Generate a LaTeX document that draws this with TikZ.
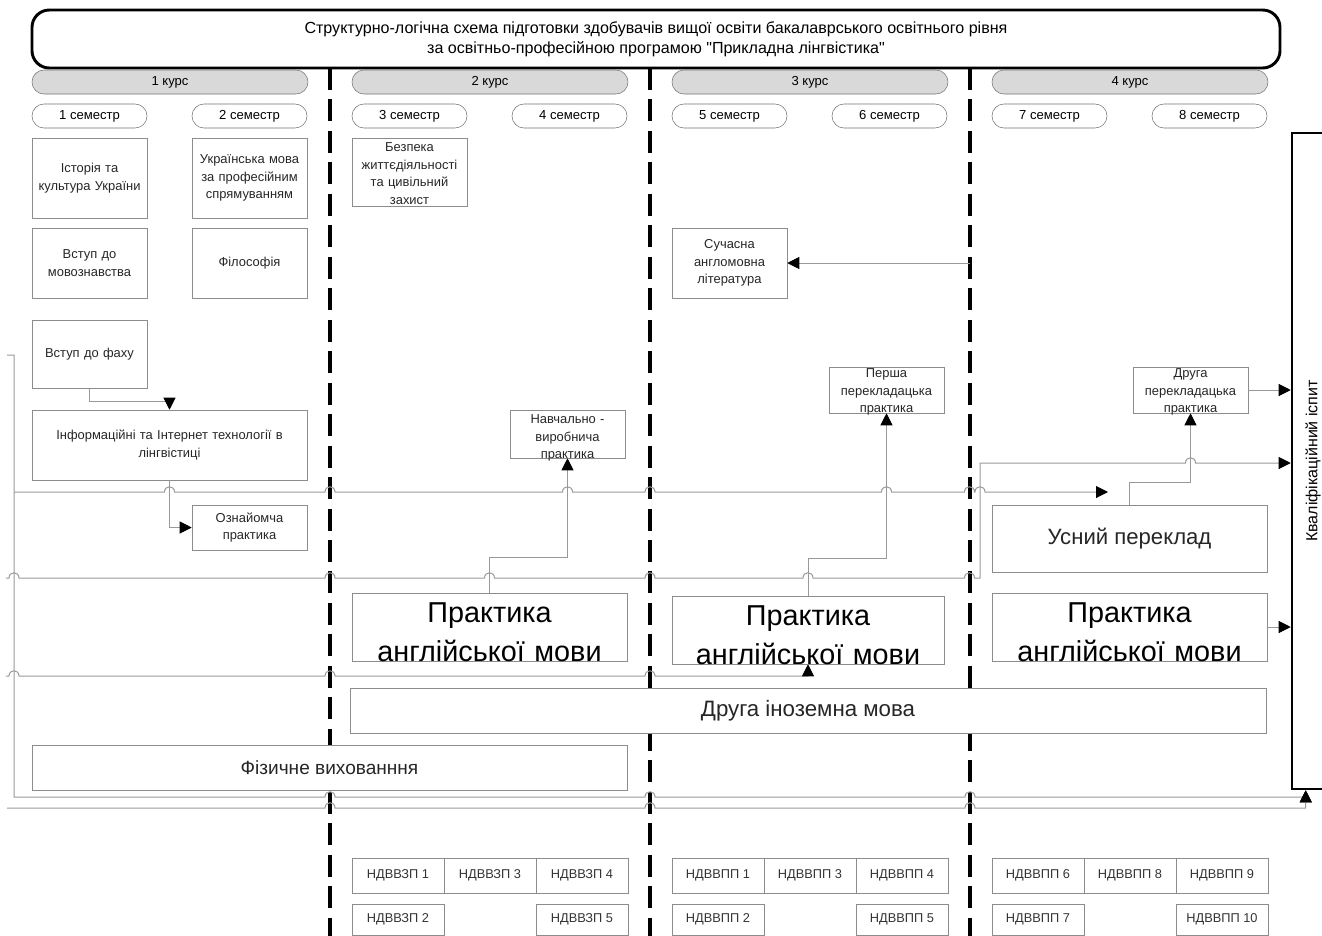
\documentclass[tikz,border=0pt]{standalone}
\usepackage{fontspec}
\setmainfont{Liberation Sans}
\newfontfamily\plainsans{Liberation Sans}
\usetikzlibrary{arrows.meta,chains,positioning}

\newcommand\linehop[2]{-- ({#1-5},#2) .. controls ({#1-5},{#2-7}) and ({#1+5},{#2-7}) .. ({#1+5},#2)}

\begin{document}
\begin{tikzpicture}[x=0.75pt, y=-0.75pt, >={Triangle[length=9pt,width=9pt,black]},
    header/.style={draw, line width=2.2pt, rounded corners=13pt, minimum width=936pt, minimum height=43.5pt, align=center, font=\plainsans\fontsize{12.05}{15}\selectfont},
    course/.style={draw=black!55, fill=black!15, rounded corners=9pt, minimum width=207pt, minimum height=18pt, inner sep=0pt, font=\fontsize{9.8}{12}\selectfont},
    sem/.style={draw=black!55, rounded corners=9pt, minimum width=86.25pt, minimum height=18pt, inner sep=0pt, font=\fontsize{9.8}{12}\selectfont},
    subj/.style={draw=black!45, text=black!85, text width=82pt, align=center, inner xsep=0pt, minimum width=86.25pt, font=\fontsize{9.7}{13.2}\selectfont},
    bigbox/.style={draw=black!45, text width=200pt, align=center, inner sep=0pt, minimum width=206.25pt, font=\fontsize{21.6}{29.25}\selectfont, text height=21.75pt, text depth=29.25pt},
    wide/.style={draw=black!45, fill=white, text=black!85, inner sep=0pt, minimum height=33.75pt},
    ndv/.style={draw=black!45, text=black!80, outer sep=0pt, inner sep=0pt, minimum width=69pt, minimum height=26.25pt, font=\fontsize{9.6}{12}\selectfont},
    conn/.style={draw=black!40, line width=0.75pt},
    divider/.style={line width=2.3pt, dash pattern=on 16.5pt off 7.1pt},
    kvalbox/.style={draw, line width=1.9pt, minimum width=31.5pt, minimum height=492pt, inner sep=0pt, font=\fontsize{12}{14}\selectfont}]
    \path[use as bounding box] (0,0) rectangle (1322,936);
    \clip (0,0) rectangle (1322,936);

    \draw[divider] (330,68) -- (330,936);
    \draw[divider] (650,68) -- (650,936);
    \draw[divider] (970,68) -- (970,936);

    \node[header] (head) at (656,39) {Структурно-логічна схема підготовки здобувачів вищої освіти бакалаврського освітнього рівня\\за освітньо-професійною програмою "Прикладна лінгвістика"};

    \node[course] (c1) at (170,82) {1 курс};
    \node[course] (c2) at (490,82) {2 курс};
    \node[course] (c3) at (810,82) {3 курс};
    \node[course] (c4) at (1130,82) {4 курс};

    \node[sem] (s1) at (89.5,116) {1 семестр};
    \node[sem] (s2) at (249.5,116) {2 семестр};
    \node[sem] (s3) at (409.5,116) {3 семестр};
    \node[sem] (s4) at (569.5,116) {4 семестр};
    \node[sem] (s5) at (729.5,116) {5 семестр};
    \node[sem] (s6) at (889.5,116) {6 семестр};
    \node[sem] (s7) at (1049.5,116) {7 семестр};
    \node[sem] (s8) at (1209.5,116) {8 семестр};

    \node[subj, minimum height=60pt] (ist) at (89.5,178) {Історія та\\культура України};
    \node[subj, minimum height=60pt] (ukr) at (249.5,178) {Українська мова\\за професійним\\спрямуванням};
    \node[subj, inner ysep=0pt, text height=10.1pt, text depth=40.9pt] (bzh) at (409.5,172) {Безпека\\життєдіяльності\\та цивільний\\захист};
    \node[subj, minimum height=52.5pt] (vmov) at (89.5,263) {Вступ до\\мовознавства};
    \node[subj, minimum height=52.5pt] (fil) at (249.5,263) {Філософія};
    \node[subj, minimum height=52.5pt] (lit) at (729.5,263) {Сучасна\\англомовна\\література};
    \node[subj, minimum height=51pt] (vfah) at (89.5,354) {Вступ до фаху};
    \node[subj, text width=200pt, minimum width=206.25pt, minimum height=52.5pt] (it) at (169.5,445) {Інформаційні та Інтернет технології в\\лінгвістиці};
    \node[subj, inner ysep=0pt, text height=10.1pt, text depth=25.9pt] (navch) at (567.5,434) {Навчально -\\виробнича\\практика};
    \node[subj, inner ysep=0pt, text height=7.9pt, text depth=26.6pt] (persha) at (886.5,390) {Перша\\перекладацька\\практика};
    \node[subj, inner ysep=0pt, text height=7.9pt, text depth=26.6pt] (druga) at (1190.5,390) {Друга\\перекладацька\\практика};
    \node[subj, minimum height=33.75pt] (ozn) at (249.5,527.5) {Ознайомча\\практика};

    \node[wide, minimum width=206.25pt, minimum height=50.25pt, font=\fontsize{16.6}{20}\selectfont] (usn) at (1129.5,538.5) {Усний переклад};
    \node[bigbox] (pam2) at (489.5,627) {Практика\\англійської мови};
    \node[bigbox, minimum width=204pt] (pam3) at (808,630) {Практика\\англійської мови};
    \node[bigbox] (pam4) at (1129.5,627) {Практика\\англійської мови};
    \node[wide, minimum width=687pt, font=\fontsize{16.7}{20}\selectfont] (inoz) at (808,710.5) {Друга іноземна мова};
    \node[wide, minimum width=446.25pt, font=\fontsize{14.3}{17}\selectfont] (fiz) at (329.5,767.5) {Фізичне вихованння};
    \node[kvalbox] (kval) at (1313,461) {\rotatebox{90}{Кваліфікаційний іспит}};

    \begin{scope}[start chain=going right, node distance=0pt]
    \node[ndv,on chain] (z1) at (398,875.5) {НДВВЗП 1};
    \node[ndv,on chain] (z3) {НДВВЗП 3};
    \node[ndv,on chain] (z4) {НДВВЗП 4};
    \end{scope}
    \node[ndv, minimum height=23.25pt, below=8.25pt of z1] (z2) {НДВВЗП 2};
    \node[ndv, minimum height=23.25pt, below=8.25pt of z4] (z5) {НДВВЗП 5};

    \begin{scope}[start chain=going right, node distance=0pt]
    \node[ndv,on chain] (p1) at (718,875.5) {НДВВПП 1};
    \node[ndv,on chain] (p3) {НДВВПП 3};
    \node[ndv,on chain] (p4) {НДВВПП 4};
    \end{scope}
    \node[ndv, minimum height=23.25pt, below=8.25pt of p1] (p2) {НДВВПП 2};
    \node[ndv, minimum height=23.25pt, below=8.25pt of p4] (p5) {НДВВПП 5};

    \begin{scope}[start chain=going right, node distance=0pt]
    \node[ndv,on chain] (p6) at (1038,875.5) {НДВВПП 6};
    \node[ndv,on chain] (p8) {НДВВПП 8};
    \node[ndv,on chain] (p9) {НДВВПП 9};
    \end{scope}
    \node[ndv, minimum height=23.25pt, below=8.25pt of p6] (p7) {НДВВПП 7};
    \node[ndv, minimum height=23.25pt, below=8.25pt of p9] (p10) {НДВВПП 10};

    \coordinate (inA) at (7,355);
    \coordinate (brA) at (14,492);
    \coordinate (outA) at (1108,492);
    \coordinate (inB) at (6,578);
    \coordinate (inC) at (6,676);
    \coordinate (inD) at (7,808);
    \coordinate (litsrc) at (970,263);

      \draw[conn,->] (vfah.south) -- ++(0,13) -| (it.north);
      \draw[conn,->] (it.south) |- (ozn.west);
      \draw[conn,->] (inA) -- (14,355) -- (14,797) \linehop{330}{797} \linehop{650}{797} \linehop{970}{797} -| ([xshift=11.25pt]kval.south west);
      \draw[conn,->] (brA) \linehop{169.5}{492} \linehop{330}{492} \linehop{567.5}{492} \linehop{650}{492} \linehop{886.5}{492} \linehop{969.5}{492} \linehop{980}{492} -- (outA);
      \draw[conn,->] (inB) \linehop{14}{578} \linehop{330}{578} \linehop{489.5}{578} \linehop{650}{578} \linehop{808}{578} \linehop{969.5}{578} -- (980,578) -- (980,463) \linehop{1190.5}{463} -- (kval.west |- 980,463);
      \draw[conn,->] (inC) \linehop{14}{676} \linehop{330}{676} \linehop{650}{676} -| (pam3.south);
      \draw[conn,->] (inD) \linehop{330}{808} \linehop{650}{808} \linehop{970}{808} -| ([xshift=11.25pt]kval.south west);
      \draw[conn,->] (pam2.north) -- ++(0,-35) -| (navch.south);
      \draw[conn,->] (pam3.north) -- ++(0,-37) -| (persha.south);
      \draw[conn,->] (usn.north) -- ++(0,-22) -| (druga.south);
      \draw[conn,->] (druga.east) -- (kval.west |- druga.east);
      \draw[conn,->] (pam4.east) -- (kval.west |- pam4.east);
      \draw[conn,->] (litsrc) -- (lit.east);
  \end{tikzpicture}
\end{document}
